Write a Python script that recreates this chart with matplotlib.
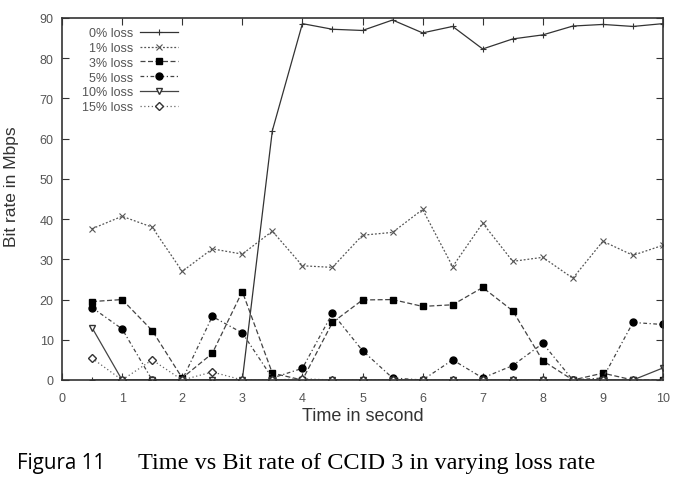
import matplotlib
matplotlib.use("Agg")
import matplotlib.pyplot as plt

# Time axis (seconds)
time_s = [0.5, 1, 1.5, 2, 2.5, 3, 3.5, 4, 4.5, 5,
          5.5, 6, 6.5, 7, 7.5, 8, 8.5, 9, 9.5, 10]

# Bit rate (Mbps) per loss rate
loss_0 = [0, 0, 0, 0, 0, 0, 62, 88.6, 87.2, 86.9,
          89.5, 86.3, 87.9, 82.3, 84.8, 85.8, 88, 88.4, 87.9, 88.6]
loss_1 = [37.6, 40.7, 38, 27, 32.6, 31.3, 37, 28.4, 28, 36,
          36.7, 42.4, 28.2, 39, 29.5, 30.5, 25.3, 34.5, 31, 33.5]
loss_3 = [19.5, 20, 12.3, 0.5, 6.6, 22, 1.7, 0, 14.3, 19.9,
          20, 18.3, 18.7, 23, 17.2, 4.8, 0, 1.7, 0, 0]
loss_5 = [18, 12.7, 0, 0, 15.8, 11.7, 0.5, 2.9, 16.6, 7.3,
          0.5, 0, 5, 0.5, 3.6, 9.1, 0, 0.5, 14.3, 13.8]
loss_10 = [13, 0, 0, 0, 0, 0, 0, 0, 0, 0,
           0, 0, 0, 0, 0, 0, 0, 0, 0, 3]
loss_15 = [5.4, 0, 5, 0, 2, 0, 0, 0.3, 0, 0,
           0, 0, 0, 0, 0, 0, 0, 0, 0, 0]

labels = ["0% loss", "1% loss", "3% loss", "5% loss", "10% loss", "15% loss"]
tick_font = ["Liberation Sans Narrow", "Liberation Sans", "DejaVu Sans"]
ink = "#333333"

fig = plt.figure(figsize=(6.82, 4.85), dpi=100)
ax = fig.add_axes([62 / 682, 1 - 381 / 485, 601 / 682, 362 / 485])

ax.plot(time_s, loss_0, color=ink, lw=0.9, ls="-", marker="+", ms=5, mew=0.8, label=labels[0])
ax.plot(time_s, loss_1, color="#555555", lw=0.9, ls=(0, (1.5, 1.5)), marker="x", ms=5, mew=0.8, label=labels[1])
ax.plot(time_s, loss_3, color="#444444", lw=0.9, ls=(0, (4, 2)), marker="s", ms=5, mfc="black", mec="black", label=labels[2])
ax.plot(time_s, loss_5, color="#444444", lw=0.9, ls=(0, (3, 2, 1, 2)), marker="o", ms=5, mfc="black", mec="black", label=labels[3])
ax.plot(time_s, loss_10, color="#444444", lw=0.9, ls="-", marker="v", ms=4, mfc="white", mec=ink, label=labels[4])
ax.plot(time_s, loss_15, color="#666666", lw=0.9, ls=(0, (1, 2)), marker="D", ms=4, mfc="white", mec=ink, label=labels[5])

ax.set_xlim(0, 10)
ax.set_ylim(0, 90)
ax.set_xticks(range(0, 11))
ax.set_yticks(range(0, 91, 10))
ax.tick_params(direction="in", top=True, right=True, length=5, width=0.8,
               colors=ink, labelsize=9, pad=6)
ax.tick_params(axis="x", pad=9)
for lab in ax.get_xticklabels() + ax.get_yticklabels():
    lab.set_family(tick_font)
    lab.set_color("#555555")
for sp in ax.spines.values():
    sp.set_color(ink)
    sp.set_linewidth(1.2)

ax.set_xlabel("Time in second", fontsize=13, family=tick_font, color=ink)
ax.xaxis.set_label_coords(0.5, -27 / 362)
ax.set_ylabel("Bit rate in Mbps", fontsize=12.5, family=tick_font, color=ink)
ax.yaxis.set_label_coords(-43 / 601, 0.537)

leg = ax.legend(loc="upper left", bbox_to_anchor=(0.02, 0.995), frameon=False,
                markerfirst=False, fontsize=9, handlelength=3.0, handletextpad=0.6,
                labelspacing=0.22, borderaxespad=0.2)
for t in leg.get_texts():
    t.set_family(tick_font)
    t.set_color("#555555")

fig.text(17 / 682, 1 - 463 / 485, "Figura 11", fontsize=14.8, family=["Open Sans", "DejaVu Sans"],
         va="center", ha="left", color="black")
fig.text(138 / 682, 1 - 464 / 485, "Time vs Bit rate of CCID 3 in varying loss rate",
         fontsize=17.5, family=["Liberation Serif", "DejaVu Serif"], va="center", ha="left",
         color="black")

fig.savefig("out.png", dpi=100)
